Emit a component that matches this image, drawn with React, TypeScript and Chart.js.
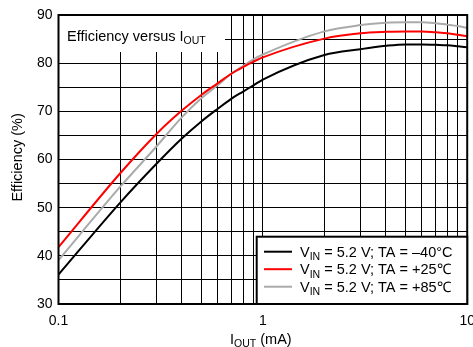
import React, { useEffect, useRef } from "react";
import { Chart, registerables } from "chart.js";

Chart.register(...registerables);

const xValues = [0.1, 0.2, 0.3, 0.4, 0.5, 0.6, 0.7, 0.8, 0.9, 1, 2, 3, 4, 5, 6, 7, 8, 9, 10];
const effMinus40 = [36.1, 51.0, 59.0, 64.3, 67.9, 70.5, 72.6, 74.1, 75.4, 76.6, 81.7, 82.9, 83.6, 83.9, 83.9, 83.8, 83.7, 83.5, 83.3];
const effPlus25 = [41.8, 57.1, 65.2, 70.1, 73.4, 75.8, 77.8, 79.2, 80.3, 81.2, 85.1, 86.2, 86.5, 86.6, 86.6, 86.4, 86.2, 85.9, 85.6];
const effPlus85 = [39.1, 54.3, 62.6, 68.7, 72.7, 75.4, 77.8, 79.4, 80.8, 81.8, 86.6, 87.9, 88.4, 88.5, 88.5, 88.3, 88.0, 87.7, 87.3];

const xGridValues = [0.1, 0.2, 0.3, 0.4, 0.5, 0.6, 0.7, 0.8, 0.9, 1, 2, 3, 4, 5, 6, 7, 8, 9, 10];
const xLabelValues = [0.1, 1, 10];
const yLabelValues = [30, 40, 50, 60, 70, 80, 90];

const seriesLabels = ["–40°C", "+25℃", "+85℃"];
const seriesColors = ["#000000", "#ff0000", "#aaaaaa"];

const FONT = '"Liberation Sans", Arial, sans-serif';

const overlayPlugin = {
  id: "overlay",
  beforeDatasetsDraw(chart: any) {
    const { ctx, chartArea } = chart;
    ctx.save();
    ctx.fillStyle = "#fff";
    ctx.fillRect(chartArea.left, chartArea.top, 225 - chartArea.left, 52 - chartArea.top);
    ctx.fillStyle = "#000";
    ctx.textBaseline = "alphabetic";
    ctx.textAlign = "left";
    ctx.font = `14.5px ${FONT}`;
    const t = "Efficiency versus I";
    ctx.fillText(t, 67, 40.7);
    const w = ctx.measureText(t).width;
    ctx.font = `10.5px ${FONT}`;
    ctx.fillText("OUT", 67 + w, 43.5);
    ctx.restore();
  },
  afterDatasetsDraw(chart: any) {
    const { ctx, chartArea } = chart;
    ctx.save();
    ctx.strokeStyle = "#000";
    ctx.lineWidth = 2;
    ctx.strokeRect(chartArea.left, chartArea.top, chartArea.right - chartArea.left, chartArea.bottom - chartArea.top);

    const lx = 256.7, ly = 236.7, lr = chartArea.right, lb = chartArea.bottom;
    ctx.fillStyle = "#fff";
    ctx.fillRect(lx, ly, lr - lx, lb - ly);
    ctx.lineWidth = 2;
    ctx.strokeStyle = "#000";
    ctx.strokeRect(lx, ly, lr - lx, lb - ly);
    const rows = [251.7, 269.2, 286.7];
    chart.data.datasets.forEach((ds: any, i: number) => {
      const y = rows[i];
      ctx.strokeStyle = ds.borderColor;
      ctx.lineWidth = 2;
      ctx.beginPath();
      ctx.moveTo(264, y);
      ctx.lineTo(292, y);
      ctx.stroke();
      ctx.fillStyle = "#000";
      ctx.textAlign = "left";
      ctx.textBaseline = "alphabetic";
      let x = 300;
      ctx.font = `14.5px ${FONT}`;
      ctx.fillText("V", x, y + 5);
      x += ctx.measureText("V").width;
      ctx.font = `10.5px ${FONT}`;
      ctx.fillText("IN", x, y + 8.5);
      x += ctx.measureText("IN").width;
      ctx.font = `14.5px ${FONT}`;
      ctx.fillText(" = 5.2 V; TA = " + seriesLabels[i], x, y + 5);
    });

    ctx.fillStyle = "#000";
    ctx.save();
    ctx.translate(18, 157.4);
    ctx.rotate(-Math.PI / 2);
    ctx.textAlign = "center";
    ctx.textBaseline = "middle";
    ctx.font = `14.5px ${FONT}`;
    ctx.fillText("Efficiency (%)", 0, 0);
    ctx.restore();

    ctx.textAlign = "left";
    ctx.textBaseline = "alphabetic";
    let x = 230;
    ctx.font = `14.5px ${FONT}`;
    ctx.fillText("I", x, 344);
    x += ctx.measureText("I").width;
    ctx.font = `10.5px ${FONT}`;
    ctx.fillText("OUT", x, 346.5);
    x += ctx.measureText("OUT").width;
    ctx.font = `14.5px ${FONT}`;
    ctx.fillText(" (mA)", x, 344);
    ctx.restore();
  },
};

export default function App() {
  const ref = useRef<HTMLCanvasElement | null>(null);
  useEffect(() => {
    if (!ref.current) return;
    const series = [effMinus40, effPlus25, effPlus85];
    const chart = new Chart(ref.current, {
      type: "line",
      data: {
        datasets: series.map((s, i) => ({
          label: seriesLabels[i],
          data: xValues.map((x, j) => ({ x, y: s[j] })),
          borderColor: seriesColors[i],
          backgroundColor: seriesColors[i],
          borderWidth: 2,
          pointRadius: 0,
          cubicInterpolationMode: "monotone" as const,
          fill: false,
        })),
      },
      options: {
        responsive: false,
        animation: false,
        devicePixelRatio: 1,
        layout: { padding: { left: 0, top: 15, right: 0, bottom: 0 } },
        plugins: { legend: { display: false }, tooltip: { enabled: false }, title: { display: false } },
        scales: {
          x: {
            type: "logarithmic",
            min: 0.1,
            max: 10,
            afterBuildTicks: (scale: any) => {
              scale.ticks = xGridValues.map((v) => ({ value: v }));
            },
            afterFit: (scale: any) => {
              scale.height = 43;
            },
            ticks: {
              autoSkip: false,
              maxRotation: 0,
              minRotation: 0,
              padding: 9,
              color: "#000",
              font: { family: FONT, size: 14 },
              callback: (v: any) => (xLabelValues.includes(Number(v)) ? String(v) : ""),
            },
            grid: { color: "#000", lineWidth: 1, drawTicks: false },
            border: { display: false },
          },
          y: {
            type: "linear",
            min: 30,
            max: 90,
            afterFit: (scale: any) => {
              scale.width = 58.5;
            },
            ticks: {
              stepSize: 5,
              padding: 6,
              color: "#000",
              font: { family: FONT, size: 14 },
              callback: (v: any) => (yLabelValues.includes(Number(v)) ? String(v) : ""),
            },
            grid: { color: "#000", lineWidth: 1, drawTicks: false },
            border: { display: false },
          },
        },
      },
      plugins: [overlayPlugin],
    });
    return () => chart.destroy();
  }, []);
  return (
    <div style={{ position: "absolute", left: 0, top: 0, width: 473, height: 347, overflow: "hidden" }}>
      <canvas ref={ref} width={484} height={347} style={{ display: "block", width: 484, height: 347 }} />
    </div>
  );
}
